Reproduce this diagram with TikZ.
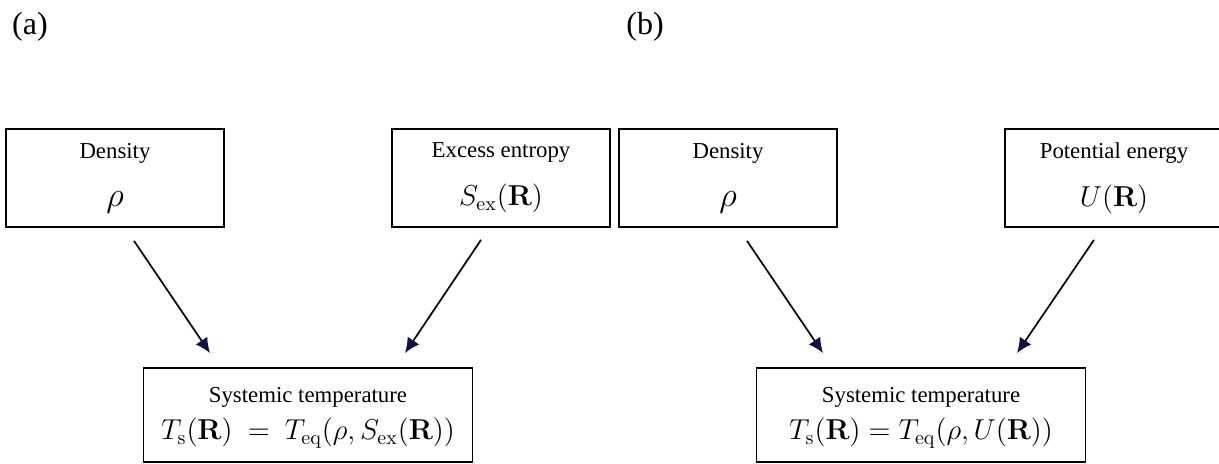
\documentclass[tikz,border=0pt]{standalone}
\usepackage[no-math]{fontspec}
\setmainfont{Liberation Serif}
\usetikzlibrary{arrows.meta}
\definecolor{tipnavy}{RGB}{18,18,66}
\newcommand{\boxmath}[1]{{\fontsize{14.4}{17}\selectfont$#1$}}
\newcommand{\bigrho}{{\fontsize{19}{22}\selectfont$\rho$}}
\tikzset{
	box/.style={draw, line width=0.9pt, minimum width=109pt, minimum height=49pt,
		inner sep=0pt, align=center, font=\fontsize{11.4}{14}\selectfont},
	widebox/.style={box, minimum width=164.5pt, minimum height=47pt},
	link/.style={line width=0.85pt,
		-{Latex[length=7.5pt,width=7pt,fill=tipnavy,color=tipnavy]}},
	tag/.style={font=\fontsize{16}{19}\selectfont}
}

\begin{document}
\begin{tikzpicture}[x=0.5pt, y=0.5pt]
		%%%%% START %%%%%
		\useasboundingbox (0, 0) rectangle (1219, 464);
		
		% panel (a)
		\node[tag] (tagA) at (30, 437) {(a)};
		\node[box] (densA) at (115, 286) {Density\\[10pt]\bigrho};
		\node[box] (entA) at (501, 286) {Excess entropy\\[10pt]\boxmath{S_{\mathrm{ex}}(\mathbf{R})}};
		\node[widebox] (sysA) at (308, 49) {\rule{0pt}{10.5pt}Systemic temperature\\[4.5pt]\boxmath{T_{\mathrm{s}}(\mathbf{R})\ =\ T_{\mathrm{eq}}(\rho, S_{\mathrm{ex}}(\mathbf{R}))}};
		
		\draw[link] ([shift={(19, -13)}]densA.south) -- ([shift={(-98, 14)}]sysA.north);
		\draw[link] ([shift={(-20, -12)}]entA.south) -- ([shift={(97, 14)}]sysA.north);
		
		% panel (b)
		\node[tag] (tagB) at (645, 437) {(b)};
		\node[box] (densB) at (728, 286) {Density\\[10pt]\bigrho};
		\node[box] (potB) at (1114, 286) {Potential energy\\[10pt]\boxmath{U(\mathbf{R})}};
		\node[widebox] (sysB) at (921, 49) {\rule{0pt}{10.5pt}Systemic temperature\\[4.5pt]\boxmath{T_{\mathrm{s}}(\mathbf{R}) = T_{\mathrm{eq}}(\rho, U(\mathbf{R}))}};
		
		\draw[link] ([shift={(19, -13)}]densB.south) -- ([shift={(-98, 14)}]sysB.north);
		\draw[link] ([shift={(-20, -12)}]potB.south) -- ([shift={(96, 14)}]sysB.north);
		
		%%%%% END %%%%%
\end{tikzpicture}
\end{document}
